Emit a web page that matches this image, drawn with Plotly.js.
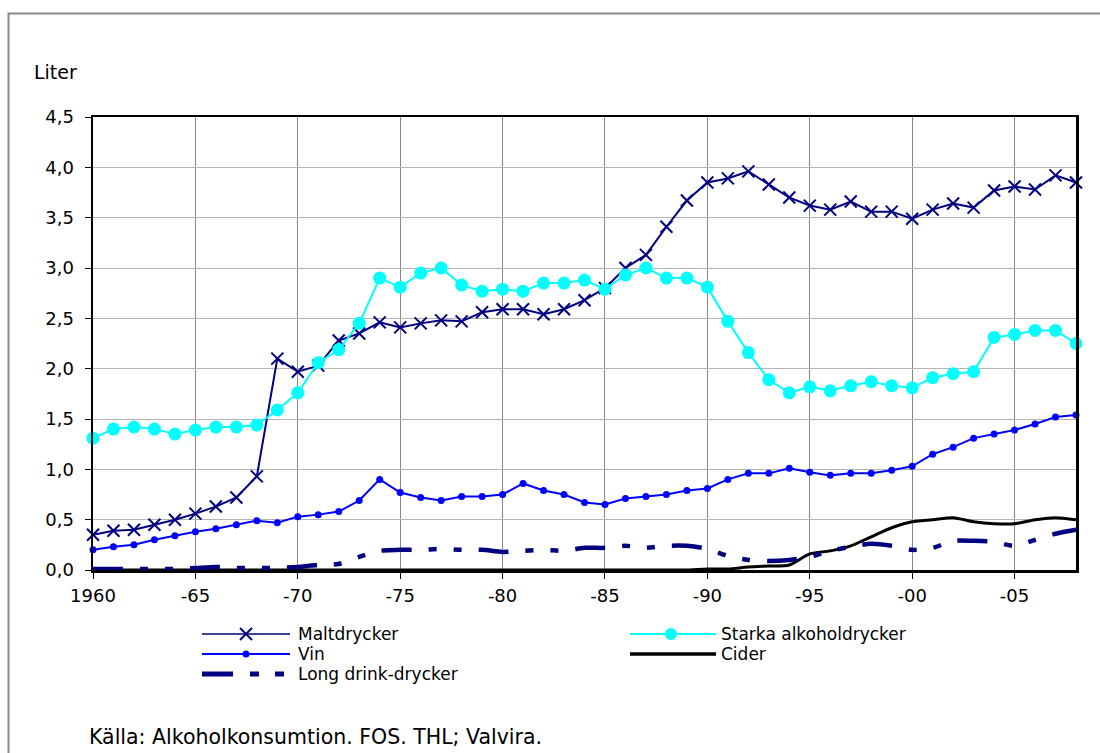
<!DOCTYPE html>
<html>
<head>
<meta charset="utf-8">
<script src="https://cdn.plot.ly/plotly-3.0.1.min.js"></script>
<style>html,body{margin:0;padding:0;background:#fff;}#chart{width:1100px;height:753px;}</style>
</head>
<body>
<div id="chart"></div>
<script>
// ---- data ----
const years = [1960,1961,1962,1963,1964,1965,1966,1967,1968,1969,
               1970,1971,1972,1973,1974,1975,1976,1977,1978,1979,
               1980,1981,1982,1983,1984,1985,1986,1987,1988,1989,
               1990,1991,1992,1993,1994,1995,1996,1997,1998,1999,
               2000,2001,2002,2003,2004,2005,2006,2007,2008];

const maltdrycker = [0.35,0.39,0.40,0.45,0.50,0.56,0.63,0.72,0.93,2.10,
                     1.97,2.03,2.28,2.35,2.46,2.41,2.45,2.48,2.47,2.56,
                     2.59,2.59,2.54,2.59,2.68,2.80,3.00,3.13,3.41,3.67,
                     3.85,3.89,3.96,3.83,3.70,3.62,3.58,3.66,3.56,3.56,
                     3.49,3.58,3.64,3.60,3.77,3.81,3.78,3.92,3.85];

const starka = [1.31,1.40,1.42,1.40,1.35,1.39,1.42,1.42,1.44,1.59,
                1.76,2.06,2.19,2.45,2.90,2.81,2.95,3.00,2.83,2.77,
                2.79,2.77,2.85,2.85,2.88,2.79,2.93,3.00,2.90,2.90,
                2.81,2.47,2.16,1.89,1.76,1.82,1.78,1.83,1.87,1.83,
                1.81,1.91,1.95,1.97,2.31,2.34,2.38,2.38,2.25];

const vin = [0.20,0.23,0.25,0.30,0.34,0.38,0.41,0.45,0.49,0.47,
             0.53,0.55,0.58,0.69,0.90,0.77,0.72,0.69,0.73,0.73,
             0.75,0.86,0.79,0.75,0.67,0.65,0.71,0.73,0.75,0.79,
             0.81,0.90,0.96,0.96,1.01,0.97,0.94,0.96,0.96,0.99,
             1.03,1.15,1.22,1.31,1.35,1.39,1.45,1.52,1.54];

const cider = [0,0,0,0,0,0,0,0,0,0,
               0,0,0,0,0,0,0,0,0,0,
               0,0,0,0,0,0,0,0,0,0,
               0.01,0.01,0.03,0.04,0.05,0.16,0.19,0.24,0.33,0.42,
               0.48,0.50,0.52,0.48,0.46,0.46,0.50,0.52,0.50];

const longdrink = [0.01,0.01,0.01,0.01,0.01,0.02,0.03,0.02,0.02,0.02,
                   0.03,0.05,0.06,0.13,0.19,0.20,0.20,0.21,0.20,0.20,
                   0.18,0.19,0.20,0.19,0.22,0.22,0.24,0.22,0.24,0.24,
                   0.21,0.14,0.10,0.09,0.10,0.13,0.19,0.23,0.26,0.24,
                   0.20,0.22,0.29,0.29,0.28,0.24,0.30,0.36,0.40];

const seriesNames = ['Maltdrycker','Starka alkoholdrycker','Vin','Cider','Long drink-drycker'];
const xTickVals = [1960,1965,1970,1975,1980,1985,1990,1995,2000,2005];
const xTickText = ['1960','-65','-70','-75','-80','-85','-90','-95','-00','-05'];
const yTitle = 'Liter';
const sourceText = 'Källa: Alkoholkonsumtion. FOS. THL; Valvira.';

// ---- layout helpers ----
const W = 1100, H = 753, ML = 93, MR = 24, MT = 117, MB = 183;
const PW = W - ML - MR, PH = H - MT - MB;
const px2x = p => (p - ML) / PW;
const px2y = p => (H - MB - p) / PH;

const FONT = 'DejaVu Sans, Arial, sans-serif';
const NAVY = '#000080', CYAN = '#00FFFF', BLUE = '#0000FF';

const traces = [
  {x: years, y: maltdrycker, name: seriesNames[0], type: 'scatter', mode: 'lines+markers',
   line: {color: NAVY, width: 2},
   marker: {symbol: 'x-thin', size: 12, color: NAVY, line: {color: NAVY, width: 2}}, cliponaxis: false},
  {x: years, y: starka, name: seriesNames[1], type: 'scatter', mode: 'lines+markers',
   line: {color: CYAN, width: 2},
   marker: {symbol: 'circle', size: 13, color: CYAN}, cliponaxis: false},
  {x: years, y: vin, name: seriesNames[2], type: 'scatter', mode: 'lines+markers',
   line: {color: BLUE, width: 2},
   marker: {symbol: 'circle', size: 7, color: BLUE}, cliponaxis: false},
  {x: years, y: cider, name: seriesNames[3], type: 'scatter', mode: 'lines',
   line: {color: '#000000', width: 3, shape: 'spline', smoothing: 0.8}, cliponaxis: false},
  {x: years, y: longdrink, name: seriesNames[4], type: 'scatter', mode: 'lines',
   line: {color: NAVY, width: 4.5, shape: 'spline', smoothing: 0.8, dash: '30px,17px,8px,17px,8px,17px'}, cliponaxis: false}
];

// manual legend (two columns, tight rows like the original)
const col1Line = [202, 290], col1Text = 297;
const col2Line = [630, 716], col2Text = 720;
const rowY = [634, 654, 674];

const shapes = [
  // outer frame
  {type: 'rect', xref: 'paper', yref: 'paper', x0: px2x(8.5), x1: px2x(1108), y0: px2y(13.5), y1: px2y(770),
   line: {color: '#8a8a8a', width: 2}, layer: 'below'},
  // Maltdrycker
  {type: 'line', xref: 'paper', yref: 'paper', x0: px2x(col1Line[0]), x1: px2x(col1Line[1]), y0: px2y(rowY[0]), y1: px2y(rowY[0]), line: {color: NAVY, width: 1.5}},
  {type: 'line', xref: 'paper', yref: 'paper', x0: px2x(240), x1: px2x(252), y0: px2y(rowY[0]-6), y1: px2y(rowY[0]+6), line: {color: NAVY, width: 2}},
  {type: 'line', xref: 'paper', yref: 'paper', x0: px2x(240), x1: px2x(252), y0: px2y(rowY[0]+6), y1: px2y(rowY[0]-6), line: {color: NAVY, width: 2}},
  // Vin
  {type: 'line', xref: 'paper', yref: 'paper', x0: px2x(col1Line[0]), x1: px2x(col1Line[1]), y0: px2y(rowY[1]), y1: px2y(rowY[1]), line: {color: BLUE, width: 2}},
  {type: 'circle', xref: 'paper', yref: 'paper', x0: px2x(242.5), x1: px2x(249.5), y0: px2y(rowY[1]-3.5), y1: px2y(rowY[1]+3.5), fillcolor: BLUE, line: {color: BLUE, width: 0}},
  // Long drink
  {type: 'line', xref: 'paper', yref: 'paper', x0: px2x(202), x1: px2x(233), y0: px2y(rowY[2]), y1: px2y(rowY[2]), line: {color: NAVY, width: 5}},
  {type: 'line', xref: 'paper', yref: 'paper', x0: px2x(250), x1: px2x(259), y0: px2y(rowY[2]), y1: px2y(rowY[2]), line: {color: NAVY, width: 5}},
  {type: 'line', xref: 'paper', yref: 'paper', x0: px2x(275), x1: px2x(284), y0: px2y(rowY[2]), y1: px2y(rowY[2]), line: {color: NAVY, width: 5}},
  // Starka
  {type: 'line', xref: 'paper', yref: 'paper', x0: px2x(col2Line[0]), x1: px2x(col2Line[1]), y0: px2y(rowY[0]), y1: px2y(rowY[0]), line: {color: CYAN, width: 2}},
  {type: 'circle', xref: 'paper', yref: 'paper', x0: px2x(665), x1: px2x(677), y0: px2y(rowY[0]-6), y1: px2y(rowY[0]+6), fillcolor: CYAN, line: {color: CYAN, width: 0}},
  // Cider
  {type: 'line', xref: 'paper', yref: 'paper', x0: px2x(col2Line[0]), x1: px2x(col2Line[1]), y0: px2y(rowY[1]), y1: px2y(rowY[1]), line: {color: '#000000', width: 3.5}}
];

const textAnn = (txt, xp, yp, size) => ({text: txt, xref: 'paper', yref: 'paper', x: px2x(xp), y: px2y(yp),
  xanchor: 'left', yanchor: 'middle', showarrow: false, font: {family: FONT, size: size, color: '#000'}, borderpad: 0});

const annotations = [
  textAnn(yTitle, 33, 72, 19),
  textAnn(seriesNames[0], col1Text, rowY[0], 17),
  textAnn(seriesNames[2], col1Text, rowY[1], 17),
  textAnn(seriesNames[4], col1Text, rowY[2], 17),
  textAnn(seriesNames[1], col2Text, rowY[0], 17),
  textAnn(seriesNames[3], col2Text, rowY[1], 17),
  textAnn(sourceText, 88, 737, 20.5)
];

const layout = {
  width: W, height: H,
  margin: {l: ML, r: MR, t: MT, b: MB, pad: 0},
  paper_bgcolor: '#ffffff', plot_bgcolor: '#ffffff',
  separators: ', ',
  showlegend: false,
  font: {family: FONT, size: 18, color: '#000'},
  xaxis: {
    range: [1960, 2008], tickmode: 'array', tickvals: xTickVals, ticktext: xTickText,
    ticks: 'outside', ticklen: 6, tickwidth: 1, tickcolor: '#000',
    showgrid: true, gridcolor: '#888888', gridwidth: 1,
    showline: true, linecolor: '#000', linewidth: 2.5, mirror: true, zeroline: false,
    tickfont: {family: FONT, size: 18, color: '#000'}, ticklabelstandoff: 2
  },
  yaxis: {
    range: [0, 4.5], dtick: 0.5, tick0: 0, tickformat: '.1f',
    ticks: 'outside', ticklen: 6, tickwidth: 1, tickcolor: '#000',
    showgrid: true, gridcolor: '#b4b4b4', gridwidth: 1,
    showline: true, linecolor: '#000', linewidth: 2.5, mirror: true, zeroline: false,
    tickfont: {family: FONT, size: 18, color: '#000'}, ticklabelstandoff: 7
  },
  shapes: shapes,
  annotations: annotations
};

Plotly.newPlot('chart', traces, layout, {staticPlot: true, displayModeBar: false});
</script>
</body>
</html>
